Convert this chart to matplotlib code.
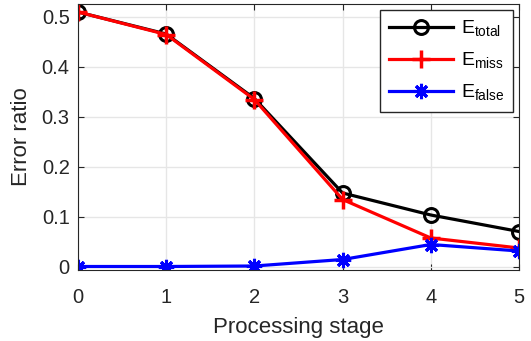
import numpy as np
import matplotlib.pyplot as plt

plt.rcParams['font.family'] = ['Liberation Sans', 'DejaVu Sans']

stage = [0, 1, 2, 3, 4, 5]
e_total = [0.510, 0.466, 0.337, 0.148, 0.104, 0.071]
e_miss = [0.510, 0.465, 0.335, 0.135, 0.058, 0.038]
e_false = [0.001, 0.001, 0.002, 0.015, 0.045, 0.032]

fig = plt.figure(figsize=(5.31, 3.41), dpi=100)
# axes box: x 78..519 px, y 4..270 px
ax = fig.add_axes([78 / 531, 1 - 270 / 341, 441 / 531, 266 / 341])

ax.plot(stage, e_total, 'k-o', lw=2.3, ms=10, mew=2.2, mfc='none', label=r'E$_{\mathregular{total}}$')
ax.plot(stage, e_miss, 'r-+', lw=2.3, ms=13, mew=2.5, label=r'E$_{\mathregular{miss}}$')
ax.plot(stage, e_false, color='b', ls='-', marker=(8, 2, 0), lw=2.3, ms=11, mew=2.2, label=r'E$_{\mathregular{false}}$')

ax.set_xlim(0, 5)
ax.set_ylim(-0.006, 0.526)
ax.set_xticks(stage)
ax.set_yticks([0, 0.1, 0.2, 0.3, 0.4, 0.5])
ax.set_yticklabels(['0', '0.1', '0.2', '0.3', '0.4', '0.5'])
ax.tick_params(direction='in', labelsize=14.5, colors='#262626', length=4, top=True, right=True)
ax.tick_params(axis='x', pad=13)
ax.tick_params(axis='y', pad=6)
ax.grid(True, color='#e6e6e6', lw=1)
ax.set_axisbelow(True)
for s in ax.spines.values():
    s.set_color('#262626')
ax.set_xlabel('Processing stage', fontsize=16, color='#262626', labelpad=7)
ax.set_ylabel('Error ratio', fontsize=16, color='#262626', labelpad=7)

leg = ax.legend(loc='upper right', fontsize=14, fancybox=False, framealpha=1,
                edgecolor='#262626', handlelength=3.3, borderaxespad=0.3,
                labelspacing=0.6, handletextpad=0.4, borderpad=0.45)

fig.savefig('out.png', dpi=100)
